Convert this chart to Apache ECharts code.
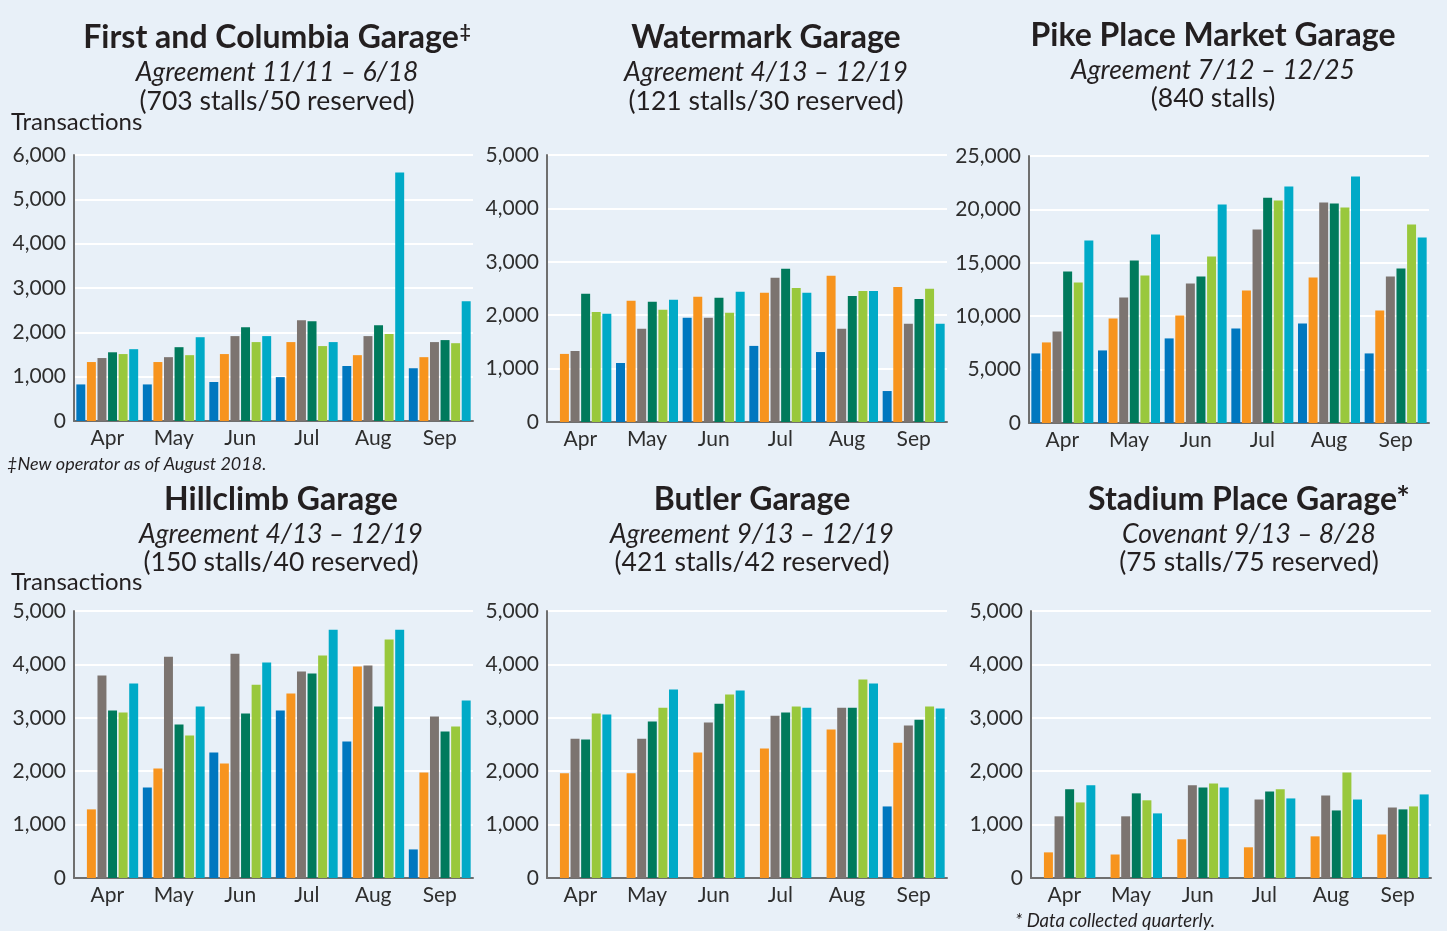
<!DOCTYPE html>
<html>
<head>
<meta charset="utf-8">
<title>Garage transactions</title>
<script src="https://cdn.jsdelivr.net/npm/echarts@6/dist/echarts.min.js"></script>
<style>
  html, body { margin: 0; padding: 0; background: #e8f0f8; }
  #charts { width: 1447px; height: 931px; }
</style>
</head>
<body>
<div id="charts"></div>
<script>
// months and years (one bar per year inside each month)
var months = ['Apr', 'May', 'Jun', 'Jul', 'Aug', 'Sep'];
var years = ['2013', '2014', '2015', '2016', '2017', '2018'];
var yearColors = ['#0077bf', '#f7941e', '#7c7470', '#007a5c', '#99c83c', '#00aac7'];

// transactions, one row per year, Apr..Sep
var firstColumbia = [
  [825, 825, 880, 990, 1240, 1190],
  [1330, 1330, 1510, 1780, 1485, 1440],
  [1420, 1440, 1915, 2275, 1915, 1780],
  [1550, 1665, 2115, 2250, 2160, 1825],
  [1510, 1485, 1780, 1690, 1960, 1755],
  [1620, 1890, 1915, 1780, 5605, 2700]
];
var watermark = [
  [null, 1105, 1950, 1425, 1310, 580],
  [1275, 2270, 2345, 2420, 2740, 2530],
  [1330, 1745, 1950, 2700, 1745, 1840],
  [2400, 2250, 2325, 2870, 2360, 2305],
  [2060, 2100, 2045, 2510, 2455, 2495],
  [2025, 2290, 2440, 2420, 2455, 1840]
];
var pikePlace = [
  [6515, 6795, 7920, 8850, 9320, 6515],
  [7545, 9790, 10070, 12405, 13620, 10535],
  [8570, 11750, 13060, 18110, 20640, 13715],
  [14185, 15210, 13715, 21100, 20545, 14465],
  [13155, 13810, 15585, 20825, 20170, 18580],
  [17085, 17645, 20450, 22135, 23070, 17365]
];
var hillclimb = [
  [null, 1695, 2350, 3135, 2555, 535],
  [1285, 2050, 2145, 3455, 3960, 1975],
  [3790, 4145, 4200, 3865, 3980, 3025],
  [3135, 2875, 3080, 3830, 3210, 2745],
  [3100, 2670, 3620, 4165, 4465, 2835],
  [3640, 3210, 4035, 4650, 4650, 3325]
];
var butler = [
  [null, null, null, null, null, 1340],
  [1960, 1960, 2350, 2425, 2780, 2535],
  [2610, 2610, 2910, 3040, 3190, 2855],
  [2595, 2930, 3265, 3100, 3190, 2965],
  [3080, 3190, 3435, 3210, 3715, 3210],
  [3060, 3530, 3510, 3190, 3640, 3175]
];
var stadium = [
  [null, null, null, null, null, null],
  [480, 440, 725, 575, 780, 815],
  [1155, 1155, 1735, 1470, 1545, 1320],
  [1660, 1585, 1695, 1620, 1265, 1285],
  [1415, 1455, 1770, 1660, 1975, 1340],
  [1735, 1210, 1695, 1490, 1470, 1565]
];

var garageNames = ['First and Columbia Garage', 'Watermark Garage', 'Pike Place Market Garage',
                   'Hillclimb Garage', 'Butler Garage', 'Stadium Place Garage*'];
var garageTerms = ['Agreement 11/11 – 6/18', 'Agreement 4/13 – 12/19', 'Agreement 7/12 – 12/25',
                   'Agreement 4/13 – 12/19', 'Agreement 9/13 – 12/19', 'Covenant 9/13 – 8/28'];
var garageStalls = ['(703 stalls/50 reserved)', '(121 stalls/30 reserved)', '(840 stalls)',
                    '(150 stalls/40 reserved)', '(421 stalls/42 reserved)', '(75 stalls/75 reserved)'];
var axisMax = [6000, 5000, 25000, 5000, 5000, 5000];
var axisStep = [1000, 1000, 5000, 1000, 1000, 1000];

var garageData = [firstColumbia, watermark, pikePlace, hillclimb, butler, stadium];

// layout of each small panel
var grids = [
  {left: 74, top: 155, width: 399, height: 266},
  {left: 547, top: 155, width: 400, height: 267},
  {left: 1029, top: 156, width: 400, height: 267},
  {left: 74, top: 611, width: 399, height: 267},
  {left: 547, top: 611, width: 400, height: 267},
  {left: 1031, top: 611, width: 400, height: 267}
];
var titlePos = [
  {x: 277, y: 38}, {x: 766, y: 38}, {x: 1213, y: 36},
  {x: 281, y: 500}, {x: 752, y: 500}, {x: 1249, y: 500}
];
var subPos = [
  {x: 277, y1: 72, y2: 101}, {x: 766, y1: 72, y2: 101}, {x: 1213, y1: 70, y2: 98},
  {x: 281, y1: 534, y2: 562}, {x: 752, y1: 534, y2: 562}, {x: 1249, y1: 534, y2: 562}
];

var txt = '#231f20';
var myChart = echarts.init(document.getElementById('charts'), null, {renderer: 'canvas'});

var xAxes = [], yAxes = [], series = [], graphics = [];
grids.forEach(function (g, i) {
  xAxes.push({
    type: 'category', gridIndex: i, data: months,
    axisLine: {show: true, lineStyle: {color: '#6f6f6f', width: 2}},
    axisTick: {show: false},
    axisLabel: {color: '#2e2e2e', fontSize: 21, fontFamily: 'Lato', margin: 7}
  });
  yAxes.push({
    type: 'value', gridIndex: i, min: 0, max: axisMax[i], interval: axisStep[i],
    axisLine: {show: true, lineStyle: {color: '#6f6f6f', width: 2}},
    axisTick: {show: false},
    splitLine: {lineStyle: {color: '#ffffff', width: 2}},
    axisLabel: {
      color: '#2e2e2e', fontSize: 21, fontFamily: 'Lato', margin: 8,
      formatter: function (v) { return v.toLocaleString('en-US'); }
    }
  });
  years.forEach(function (yr, k) {
    series.push({
      name: yr, type: 'bar', xAxisIndex: i, yAxisIndex: i,
      data: garageData[i][k],
      itemStyle: {color: yearColors[k]},
      barGap: '18%', barCategoryGap: '7%',
      silent: true
    });
  });

  // titles
  var t = garageNames[i];
  if (i === 0) {
    graphics.push({
      type: 'text', x: titlePos[i].x, y: titlePos[i].y,
      style: {
        text: '{a|' + t + '}{s|‡}', align: 'center', verticalAlign: 'middle',
        rich: {
          a: {font: 'bold 32px Lato', fill: txt},
          s: {font: 'bold 19px Lato', fill: txt, verticalAlign: 'top', padding: [0, 0, 12, 1]}
        }
      }
    });
  } else {
    graphics.push({
      type: 'text', x: titlePos[i].x, y: titlePos[i].y,
      style: {text: t, font: 'bold 32px Lato', fill: txt, align: 'center', verticalAlign: 'middle'}
    });
  }
  graphics.push({
    type: 'text', x: subPos[i].x, y: subPos[i].y1,
    style: {text: garageTerms[i], font: 'italic 26.5px Lato', fill: txt, align: 'center', verticalAlign: 'middle'}
  });
  graphics.push({
    type: 'text', x: subPos[i].x, y: subPos[i].y2,
    style: {text: garageStalls[i], font: '26.5px Lato', fill: txt, align: 'center', verticalAlign: 'middle'}
  });
});

// axis name and footnotes
graphics.push({type: 'text', x: 11, y: 122,
  style: {text: 'Transactions', font: '24px Lato', fill: txt, verticalAlign: 'middle'}});
graphics.push({type: 'text', x: 11, y: 582,
  style: {text: 'Transactions', font: '24px Lato', fill: txt, verticalAlign: 'middle'}});
graphics.push({type: 'text', x: 7, y: 464,
  style: {text: '‡New operator as of August 2018.', font: 'italic 18px Lato', fill: txt, verticalAlign: 'middle'}});
graphics.push({type: 'text', x: 1015, y: 921,
  style: {text: '* Data collected quarterly.', font: 'italic 18.5px Lato', fill: txt, verticalAlign: 'middle'}});

option = {
  backgroundColor: '#e8f0f8',
  animation: false,
  grid: grids,
  xAxis: xAxes,
  yAxis: yAxes,
  series: series,
  graphic: graphics
};

myChart.setOption(option);
</script>
</body>
</html>
